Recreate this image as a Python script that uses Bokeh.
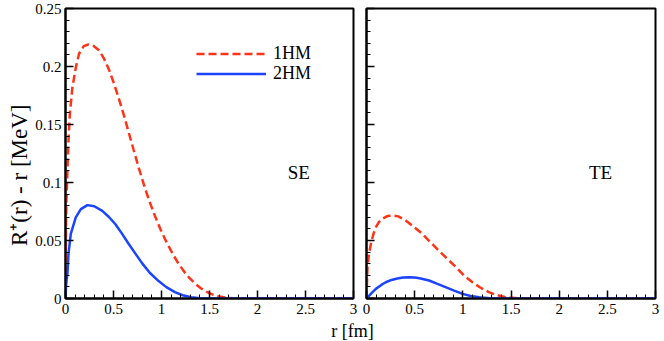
from bokeh.plotting import figure
from bokeh.models import Range1d, FixedTicker, Legend, LegendItem, Label
from bokeh.layouts import row, column
from bokeh.embed import file_html
from bokeh.resources import INLINE

# ---------------- data ----------------
# SE panel
r_se_1hm = [0.0, 0.005, 0.01, 0.021, 0.031, 0.045, 0.072, 0.107, 0.141, 0.19, 0.238, 0.29, 0.348,
            0.40, 0.452, 0.50, 0.555, 0.61, 0.659, 0.71, 0.762, 0.815, 0.87, 0.93, 0.99, 1.05, 1.11,
            1.17, 1.23, 1.29, 1.35, 1.41, 1.47, 1.53, 1.6, 1.69, 1.8, 3.0]
v_se_1hm = [0.0, 0.06, 0.085, 0.113, 0.136, 0.159, 0.182, 0.199, 0.211, 0.2175, 0.219, 0.2178, 0.2140,
            0.2070, 0.1975, 0.1865, 0.1725, 0.1575, 0.1430, 0.1280, 0.1130, 0.0985, 0.0848, 0.0715,
            0.0595, 0.0490, 0.0395, 0.0310, 0.0238, 0.0178, 0.0128, 0.0088, 0.0058, 0.0035, 0.0018,
            0.0006, 0.0, 0.0]

r_se_2hm = [0.0, 0.005, 0.01, 0.021, 0.031, 0.055, 0.107, 0.16, 0.228, 0.30, 0.383, 0.45, 0.52, 0.59,
            0.659, 0.73, 0.797, 0.88, 0.97, 1.05, 1.14, 1.22, 1.31, 1.4, 1.5, 3.0]
v_se_2hm = [0.0, 0.010, 0.015, 0.022, 0.0385, 0.0557, 0.070, 0.077, 0.0805, 0.0795, 0.0755, 0.0705, 0.064,
            0.0557, 0.047, 0.0385, 0.0305, 0.022, 0.0150, 0.0098, 0.0055, 0.0028, 0.0011, 0.0003, 0.0, 0.0]

# TE panel
r_te_1hm = [0.0, 0.01, 0.025, 0.045, 0.07, 0.097, 0.13, 0.17, 0.22, 0.27, 0.33, 0.41, 0.49, 0.58,
            0.67, 0.755, 0.84, 0.93, 1.01, 1.10, 1.18, 1.27, 1.35, 1.45, 1.6, 3.0]
v_te_1hm = [0.0, 0.027, 0.038, 0.047, 0.055, 0.0615, 0.066, 0.069, 0.0712, 0.0716, 0.0708, 0.067, 0.0618,
            0.0557, 0.048, 0.041, 0.034, 0.027, 0.020, 0.014, 0.0095, 0.0055, 0.003, 0.001, 0.0, 0.0]

r_te_2hm = [0.0, 0.05, 0.097, 0.15, 0.2, 0.26, 0.32, 0.38, 0.443, 0.50, 0.55, 0.65, 0.73, 0.82,
            0.91, 0.997, 1.08, 1.17, 1.28, 1.4, 3.0]
v_te_2hm = [0.0, 0.0045, 0.0083, 0.0115, 0.014, 0.016, 0.0173, 0.0181, 0.0184, 0.0181, 0.0175, 0.0155,
            0.0128, 0.0098, 0.0068, 0.004, 0.0022, 0.001, 0.0003, 0.0, 0.0]

series_names = ["1HM", "2HM"]
panel_names = ["SE", "TE"]

x_ticks = [0, 0.5, 1, 1.5, 2, 2.5, 3]
x_tick_labels = ["0", "0.5", "1", "1.5", "2", "2.5", "3"]
x_minor = [i / 10 for i in range(31)]
y_ticks = [0, 0.05, 0.1, 0.15, 0.2, 0.25]
y_tick_labels = ["0", "0.05", "0.1", "0.15", "0.2", "0.25"]
y_minor = [i / 100 for i in range(26)]

x_label = "r [fm]"
y_label = "R\u207a(r) - r [MeV]"

# ---------------- style ----------------
FONT = "Liberation Serif"
RED = "#ff3318"
BLUE = "#1a44ff"
TOP, FRAME_H, BOTTOM = 8, 290, 22
PANEL_H = TOP + FRAME_H + BOTTOM
YLAB_W = 32


def make_panel(left_border, right_border, frame_w, show_ylabels):
    p = figure(width=left_border + frame_w + right_border, height=PANEL_H,
               x_range=Range1d(0, 3), y_range=Range1d(0, 0.25),
               output_backend="svg", toolbar_location=None,
               min_border_left=left_border, min_border_right=right_border,
               min_border_top=TOP, min_border_bottom=BOTTOM)
    p.grid.visible = False
    p.outline_line_color = "black"
    p.outline_line_width = 2
    p.background_fill_color = "white"
    p.border_fill_color = "white"
    for ax in (p.xaxis[0], p.yaxis[0]):
        ax.axis_line_width = 2
        ax.axis_line_color = "black"
        ax.major_tick_in = 8
        ax.major_tick_out = 0
        ax.minor_tick_in = 4
        ax.minor_tick_out = 0
        ax.major_tick_line_width = 1.5
        ax.minor_tick_line_width = 1
        ax.major_label_text_font = FONT
        ax.major_label_text_font_size = "15px"
        ax.major_label_text_color = "black"
    p.xaxis[0].ticker = FixedTicker(ticks=x_ticks, minor_ticks=x_minor)
    p.xaxis[0].major_label_overrides = {t: s for t, s in zip(x_ticks, x_tick_labels)}
    p.xaxis[0].major_label_standoff = 5
    p.yaxis[0].ticker = FixedTicker(ticks=y_ticks, minor_ticks=y_minor)
    if show_ylabels:
        p.yaxis[0].major_label_overrides = {t: s for t, s in zip(y_ticks, y_tick_labels)}
        p.yaxis[0].major_label_standoff = 4
    else:
        p.yaxis[0].major_label_overrides = {t: "" for t in y_ticks}
        p.yaxis[0].major_label_standoff = 0
    return p


left = make_panel(63 - YLAB_W, 6, 290, True)
right = make_panel(7, 5, 289, False)

l1 = left.line(r_se_1hm, v_se_1hm, line_color=RED, line_width=2.5, line_dash="8 4")
l2 = left.line(r_se_2hm, v_se_2hm, line_color=BLUE, line_width=2.5)
right.line(r_te_1hm, v_te_1hm, line_color=RED, line_width=2.5, line_dash="8 4")
right.line(r_te_2hm, v_te_2hm, line_color=BLUE, line_width=2.5)

# two single-entry legends so the rows sit as close as in the reference
for renderer, name, ypos in ((l1, series_names[0], 234), (l2, series_names[1], 214)):
    left.add_layout(Legend(items=[LegendItem(label=name, renderers=[renderer])],
                           location=(131, ypos), orientation="vertical",
                           glyph_width=70, glyph_height=17, label_height=17, label_standoff=7,
                           padding=0, margin=0, border_line_color=None, background_fill_alpha=0,
                           label_text_font=FONT, label_text_font_size="18px",
                           label_text_color="black"))

for p, name in ((left, panel_names[0]), (right, panel_names[1])):
    p.add_layout(Label(x=2.43, y=0.109, text=name, text_font=FONT, text_font_size="19px",
                       text_align="center", text_baseline="middle", text_color="black"))

# y-axis title in its own narrow strip (so it can sit off-centre as in the reference)
ylab = figure(width=YLAB_W, height=PANEL_H, x_range=Range1d(0, YLAB_W), y_range=Range1d(0, PANEL_H),
              output_backend="svg", toolbar_location=None, min_border=0)
ylab.axis.visible = False
ylab.grid.visible = False
ylab.outline_line_color = None
ylab.add_layout(Label(x=19, y=PANEL_H - 184, text=y_label, angle=1.5708,
                      text_font=FONT, text_font_size="23px", text_align="center",
                      text_baseline="middle", text_color="black"))

# x-axis title centred under both panels
XLAB_H = 21
xlab = figure(width=660, height=XLAB_H, x_range=Range1d(0, 660), y_range=Range1d(0, XLAB_H),
              output_backend="svg", toolbar_location=None, min_border=0)
xlab.axis.visible = False
xlab.grid.visible = False
xlab.outline_line_color = None
xlab.add_layout(Label(x=352, y=10.5, text=x_label, text_font=FONT, text_font_size="18px",
                      text_align="center", text_baseline="middle", text_color="black"))

layout = column(row(ylab, left, right), xlab)
open("out.html", "w").write(file_html(layout, INLINE))
